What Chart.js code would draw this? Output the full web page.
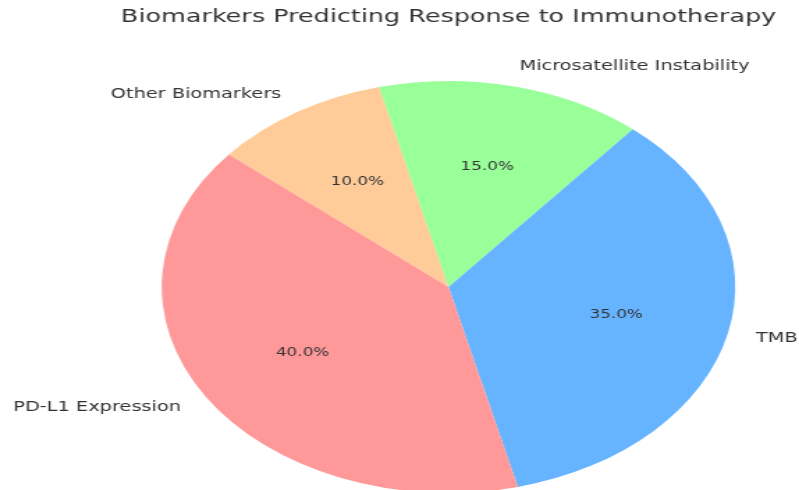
<!DOCTYPE html>
<html>
<head>
<meta charset="utf-8">
<script src="https://cdn.jsdelivr.net/npm/chart.js@4"></script>
<style>
    html, body { margin: 0; padding: 0; background: #fff; overflow: hidden; }
    /* the reference is a stretched figure, so draw narrow and scale x */
    #wrap { width: 574px; height: 494px; transform: scale(1.392, 1); transform-origin: 0 0; }
</style>
</head>
<body>
<div id="wrap"><canvas id="chart-container" width="574" height="494"></canvas></div>
<script>
// Slices listed in drawing order (clockwise from the start angle)
const categories = ['Other Biomarkers', 'Microsatellite Instability', 'TMB', 'PD-L1 Expression'];
const shares = [10, 15, 35, 40];
const sliceColors = ['#ffcc99', '#99ff99', '#66b3ff', '#ff9999'];
const chartTitle = 'Biomarkers Predicting Response to Immunotherapy';

const textColor = '#333';
const fontFamily = 'DejaVu Sans';

// Labels outside the pie and percentages inside, placed like matplotlib's pie
const pieLabels = {
    id: 'pieLabels',
    afterDatasetsDraw(chart) {
        const ctx = chart.ctx;
        const arcs = chart.getDatasetMeta(0).data;
        const total = shares.reduce((a, b) => a + b, 0);
        ctx.save();
        ctx.fillStyle = textColor;
        ctx.textBaseline = 'middle';
        arcs.forEach((arc, i) => {
            const mid = (arc.startAngle + arc.endAngle) / 2;
            const r = arc.outerRadius;
            const c = Math.cos(mid), s = Math.sin(mid);

            ctx.font = '13.9px "' + fontFamily + '"';
            ctx.textAlign = c >= 0 ? 'left' : 'right';
            ctx.fillText(categories[i], arc.x + 1.1 * r * c, arc.y + 1.1 * r * s);

            ctx.font = '12.1px "' + fontFamily + '"';
            ctx.textAlign = 'center';
            const pct = (shares[i] / total * 100).toFixed(1) + '%';
            ctx.fillText(pct, arc.x + 0.6 * r * c, arc.y + 0.6 * r * s);
        });
        ctx.restore();
    }
};

function initChart() {
    const ctx = document.getElementById('chart-container').getContext('2d');
    new Chart(ctx, {
        type: 'pie',
        data: {
            labels: categories,
            datasets: [{
                data: shares,
                backgroundColor: sliceColors,
                borderWidth: 0
            }]
        },
        options: {
            responsive: false,
            animation: false,
            rotation: -50,
            layout: {
                padding: { left: 70.4, right: 0, top: 0, bottom: 1 }
            },
            plugins: {
                legend: { display: false },
                tooltip: { enabled: false },
                title: {
                    display: true,
                    text: chartTitle,
                    color: textColor,
                    font: { family: fontFamily, size: 18.3, weight: 'normal' },
                    padding: { top: 6, bottom: 53 }
                }
            }
        },
        plugins: [pieLabels]
    });
}

document.addEventListener('DOMContentLoaded', initChart);
</script>
</body>
</html>
